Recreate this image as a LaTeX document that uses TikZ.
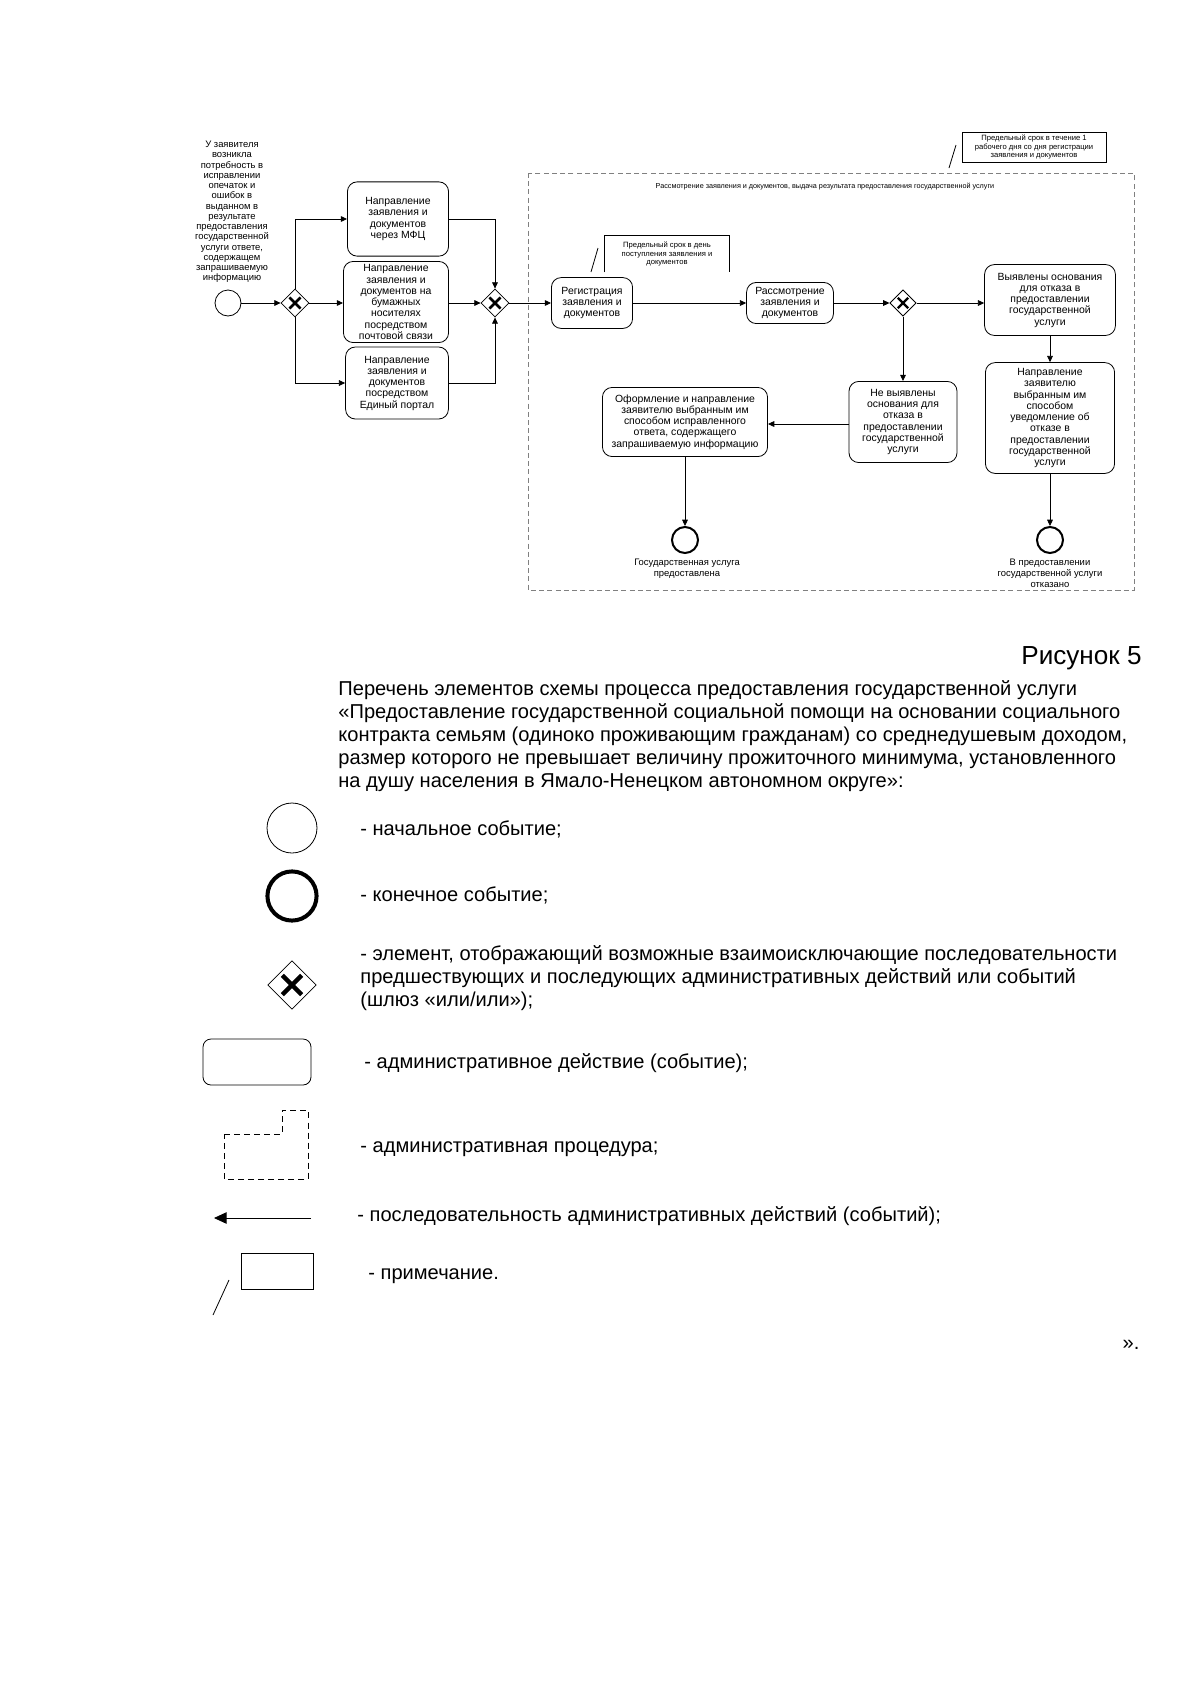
\documentclass[tikz,border=0pt]{standalone}
\usepackage{fontspec}
\setmainfont{Liberation Sans}
\usetikzlibrary{shapes.geometric,arrows.meta,calc,positioning}

\tikzset{
  task/.style={draw, rounded corners=0.17cm, align=center, inner sep=1pt,
    font=\fontsize{5.2}{5.6}\selectfont},
  gate/.style={diamond, draw, inner sep=0pt, minimum size=#1,
    path picture={
      \draw[line width=0.09*#1]
        ($(path picture bounding box.south west)!0.3!(path picture bounding box.north east)$)
        -- ($(path picture bounding box.south west)!0.7!(path picture bounding box.north east)$);
      \draw[line width=0.09*#1]
        ($(path picture bounding box.north west)!0.3!(path picture bounding box.south east)$)
        -- ($(path picture bounding box.north west)!0.7!(path picture bounding box.south east)$);
    }},
  startev/.style={circle, draw, inner sep=0pt, minimum size=#1},
  endev/.style={circle, draw, line width=1pt, inner sep=0pt, minimum size=#1},
  flow/.style={-{Triangle[length=1.1mm,width=1mm]}},
  notetext/.style={align=center, inner sep=0pt, font=\fontsize{3.8}{4.2}\selectfont},
  evlabel/.style={align=center, inner sep=0pt, font=\fontsize{4.7}{5.5}\selectfont},
  legtext/.style={anchor=west, inner sep=0pt, align=left, font=\fontsize{10}{11.46}\selectfont},
}

\begin{document}
\begin{tikzpicture}[x=0.0175cm, y=-0.0175cm]
  \useasboundingbox (0,0) rectangle (1200,1697);

  % начало и первый шлюз
  \node[startev=0.455cm] (start) at (228,303) {};
  \node[evlabel, font=\fontsize{4.7}{5.1}\selectfont] (startlbl) at (232,212)
    {У заявителя\\возникла\\потребность в\\исправлении\\опечаток и\\ошибок в\\выданном в\\результате\\предоставления\\государственной\\услуги ответе,\\содержащем\\запрашиваемую\\информацию};
  \node[gate=0.49cm] (g1) at (295,303) {};

  % способы направления
  \node[task, minimum width=1.77cm, minimum height=1.30cm] (mfc) at (398,219)
    {Направление\\заявления и\\документов\\через МФЦ};
  \node[task, minimum width=1.84cm, minimum height=1.42cm] (post) at (396,302)
    {Направление\\заявления и\\документов на\\бумажных\\носителях\\посредством\\почтовой связи};
  \node[task, minimum width=1.80cm, minimum height=1.26cm] (portal) at (397,383)
    {Направление\\заявления и\\документов\\посредством\\Единый портал};
  \node[gate=0.49cm] (g2) at (495,303) {};

  % административная процедура
  \draw[gray, dash pattern=on 2.5pt off 1.6pt] (528,173) rectangle (1134,590);
  \node[notetext, font=\fontsize{3.6}{4}\selectfont] (title) at (825,187)
    {Рассмотрение заявления и документов, выдача результата предоставления государственной услуги};

  \node[task, minimum width=1.42cm, minimum height=0.89cm] (reg) at (592,303)
    {Регистрация\\заявления и\\документов};
  \node[task, minimum width=1.52cm, minimum height=0.72cm] (review) at (790,303)
    {Рассмотрение\\заявления и\\документов};
  \node[gate=0.46cm] (g3) at (903,303) {};
  \node[task, minimum width=2.29cm, minimum height=1.24cm] (found) at (1050,300)
    {Выявлены основания\\для отказа в\\предоставлении\\государственной\\услуги};
  \node[task, minimum width=2.26cm, minimum height=1.94cm] (refuse) at (1050,418)
    {Направление\\заявителю\\выбранным им\\способом\\уведомление об\\отказе в\\предоставлении\\государственной\\услуги};
  \node[task, minimum width=1.89cm, minimum height=1.42cm] (notfound) at (903,422)
    {Не выявлены\\основания для\\отказа в\\предоставлении\\государственной\\услуги};
  \node[task, minimum width=2.89cm, minimum height=1.21cm] (issue) at (685,422)
    {Оформление и направление\\заявителю выбранным им\\способом исправленного\\ответа, содержащего\\запрашиваемую информацию};

  % конечные события
  \node[endev=0.455cm] (end1) at (685,540) {};
  \node[evlabel, anchor=north] (end1lbl) at (687,559)
    {Государственная услуга\\предоставлена};
  \node[endev=0.455cm] (end2) at (1050,540) {};
  \node[evlabel, anchor=north] (end2lbl) at (1050,559)
    {В предоставлении\\государственной услуги\\отказано};

  % примечания
  \node[notetext, minimum width=2.17cm, minimum height=0.63cm] (n1) at (667,254)
    {Предельный срок в день\\поступления заявления и\\документов};
  \draw (n1.south west) -- (n1.north west) -- (n1.north east) -- (n1.south east);
  \coordinate (n1a) at (598,248);
  \coordinate (n1b) at (591,272);
  \draw (n1a) -- (n1b);

  \node[notetext, draw, minimum width=2.52cm, minimum height=0.525cm] (n2) at (1034,147)
    {Предельный срок в течение 1\\рабочего дня со дня регистрации\\заявления и документов};
  \coordinate (n2a) at (956,145);
  \coordinate (n2b) at (949,168);
  \draw (n2a) -- (n2b);

  % связи
  \draw[flow] (start) -- (g1);
  \draw[flow] (g1.north) |- (mfc.west);
  \draw[flow] (g1.east) -- (g1.east -| post.west);
  \draw[flow] (g1.south) |- (portal.west);
  \draw[flow] (mfc.east) -| (g2.north);
  \draw[flow] (post.east |- g2.west) -- (g2.west);
  \draw[flow] (portal.east) -| (g2.south);
  \draw[flow] (g2.east) -- (reg.west);
  \draw[flow] (reg.east) -- (review.west);
  \draw[flow] (review.east) -- (g3.west);
  \draw[flow] (g3.east) -- (g3.east -| found.west);
  \draw[flow] (g3.south) -- (notfound.north);
  \draw[flow] (found.south) -- (refuse.north);
  \draw[flow] (notfound.west |- 0,424) -- (issue.east |- 0,424);
  \draw[flow] (issue.south) -- (end1.north);
  \draw[flow] (refuse.south) -- (end2.north);

  % перечень элементов
  \node[legtext, anchor=east, font=\fontsize{13}{15}\selectfont] (fig) at (1142,658) {Рисунок 5};
  \node[legtext] (intro) at (338,736)
    {Перечень элементов схемы процесса предоставления государственной услуги\\
     «Предоставление государственной социальной помощи на основании социального\\
     контракта семьям (одиноко проживающим гражданам) со среднедушевым доходом,\\
     размер которого не превышает величину прожиточного минимума, установленного\\
     на душу населения в Ямало-Ненецком автономном округе»:};

  \node[startev=0.875cm] (lstart) at (292,828) {};
  \node[legtext] (lstarttxt) at (360,829) {- начальное событие;};

  \node[endev=0.86cm, line width=2pt] (lend) at (292,896) {};
  \node[legtext] (lendtxt) at (360,895) {- конечное событие;};

  \node[gate=0.85cm] (lgate) at (292,985) {};
  \node[legtext] (lgatetxt) at (360,978)
    {- элемент, отображающий возможные взаимоисключающие последовательности\\
     предшествующих и последующих административных действий или событий\\
     (шлюз «или/или»);};

  \node[draw, rounded corners=0.14cm, minimum width=1.89cm, minimum height=0.805cm] (ltask) at (257,1062) {};
  \node[legtext] (ltasktxt) at (364,1063) {- административное действие (событие);};

  \draw[dash pattern=on 3pt off 2pt] (224,1134) -- (282,1134) -- (282,1110) -- (308,1110)
    -- (308,1179) -- (224,1179) -- cycle;
  \node[legtext] (lproctxt) at (360,1149) {- административная процедура;};

  \coordinate (larrowa) at (311,1218);
  \coordinate (larrowb) at (214,1218);
  \draw[-{Triangle[length=2.2mm,width=2mm]}] (larrowa) -- (larrowb);
  \node[legtext] (larrowtxt) at (357,1216) {- последовательность административных действий (событий);};

  \node[draw, minimum width=1.26cm, minimum height=0.63cm] (lnote) at (277,1271) {};
  \coordinate (lnotea) at (229,1280);
  \coordinate (lnoteb) at (213,1315);
  \draw (lnotea) -- (lnoteb);
  \node[legtext] (lnotetxt) at (368,1276) {- примечание.};

  \node[legtext, anchor=center] (close) at (1131,1345) {».};
\end{tikzpicture}
\end{document}
